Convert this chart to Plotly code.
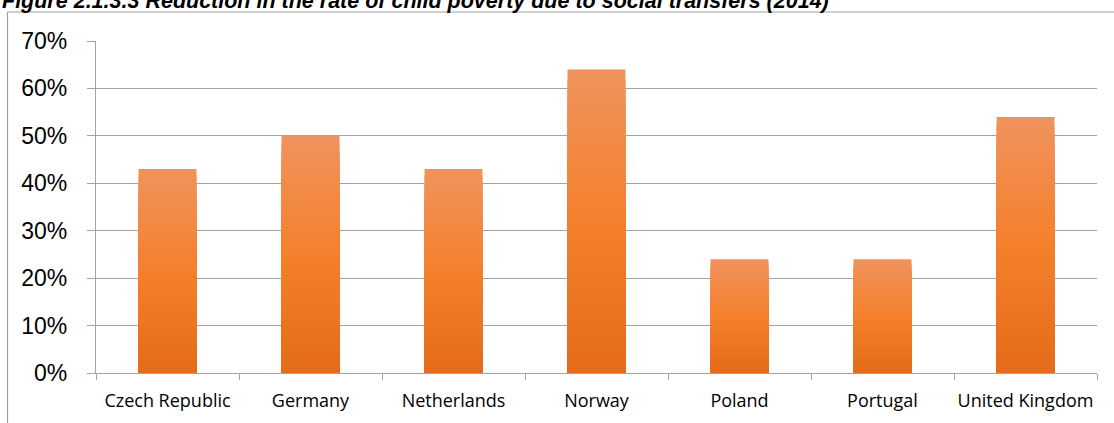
import plotly.graph_objects as go

categories = ["Czech Republic", "Germany", "Netherlands", "Norway", "Poland", "Portugal", "United Kingdom"]
values = [0.43, 0.50, 0.43, 0.64, 0.24, 0.24, 0.54]
y_ticks = [0, 0.1, 0.2, 0.3, 0.4, 0.5, 0.6, 0.7]
title_text = "Figure 2.1.3.3 Reduction in the rate of child poverty due to social transfers (2014)"

# gradient stops (top -> middle -> bottom)
stops = [(240, 146, 92), (244, 128, 44), (228, 108, 26)]

def lerp_color(t):
    if t <= 0.5:
        a, b, u = stops[0], stops[1], t / 0.5
    else:
        a, b, u = stops[1], stops[2], (t - 0.5) / 0.5
    c = [round(a[i] + (b[i] - a[i]) * u) for i in range(3)]
    return f"rgb({c[0]},{c[1]},{c[2]})"

N = 30
fig = go.Figure()
for k in range(N):
    frac = 1 - k / N
    fig.add_trace(go.Bar(
        x=categories,
        y=[v * frac for v in values],
        marker=dict(color=lerp_color(k / (N - 1)), line=dict(width=0)),
        width=0.405,
        showlegend=False,
        hoverinfo="skip" if k else None,
    ))

fig.update_layout(
    width=1114, height=423,
    margin=dict(l=96, r=17, t=41, b=50, autoexpand=False),
    paper_bgcolor="white", plot_bgcolor="white",
    barmode="overlay",
    font=dict(family="Liberation Sans, Arial", color="black"),
)
fig.update_yaxes(
    range=[0, 0.7], tickvals=y_ticks, tickformat=".0%",
    showgrid=True, gridcolor="#a3a3a3", gridwidth=1.4,
    showline=True, linecolor="#a3a3a3", linewidth=1.4,
    ticks="outside", ticklen=8, tickcolor="#a3a3a3", tickwidth=1.4,
    tickfont=dict(size=23, family="Liberation Sans, Arial", color="black"),
    ticklabelstandoff=15, zeroline=False, automargin=False,
)
fig.update_xaxes(
    showline=True, linecolor="#a3a3a3", linewidth=1.4,
    ticks="outside", ticklen=6, tickcolor="#a3a3a3", tickwidth=1.4,
    tickson="boundaries", tickangle=0, automargin=False,
    ticklabelstandoff=11,
    tickfont=dict(size=18, family="Open Sans, Noto Sans", color="black"),
)

# chart frame lines (top and left)
fig.add_shape(type="line", xref="paper", yref="paper",
              x0=(7.5 - 96) / 1001, x1=(1114 - 96) / 1001,
              y0=(373 - 12) / 332, y1=(373 - 12) / 332,
              line=dict(color="#a0a0a0", width=1.2))
fig.add_shape(type="line", xref="paper", yref="paper",
              x0=(7.5 - 96) / 1001, x1=(7.5 - 96) / 1001,
              y0=(373 - 12) / 332, y1=(373 - 430) / 332,
              line=dict(color="#a0a0a0", width=1.2))

fig.add_annotation(
    text=f"<b><i>{title_text}</i></b>", xref="paper", yref="paper",
    x=(0 - 96) / 1001, y=(373 - 15) / 332, xanchor="left", yanchor="bottom",
    showarrow=False, font=dict(size=21.5, family="Liberation Sans, Arial", color="black"),
)

fig.write_html("out.html")
